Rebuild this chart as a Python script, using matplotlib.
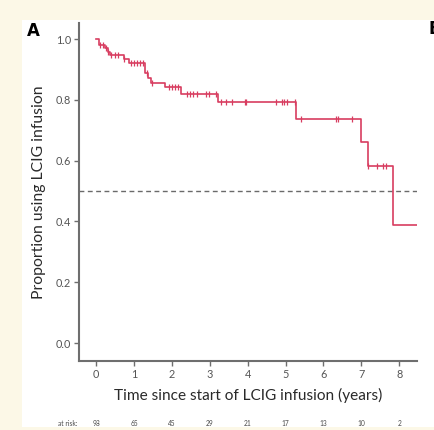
import numpy as np
import matplotlib
matplotlib.use("Agg")
import matplotlib.pyplot as plt
from matplotlib.patches import Rectangle
from matplotlib.transforms import blended_transform_factory

# Kaplan-Meier estimate of continued LCIG use
event_times = [0.0, 0.07, 0.245, 0.31, 0.38, 0.73, 0.86, 1.30, 1.37, 1.46,
               1.81, 2.24, 3.23, 5.28, 6.99, 7.17, 7.83]
survival = [1.0, 0.980, 0.970, 0.959, 0.948, 0.936, 0.921, 0.888, 0.871, 0.856,
            0.842, 0.821, 0.793, 0.738, 0.662, 0.582, 0.388]
last_followup = 8.46

censor_times = [0.11, 0.18, 0.25, 0.32, 0.39, 0.50, 0.58, 0.74, 0.92, 1.00,
                1.08, 1.16, 1.24, 1.34, 1.47, 1.92, 2.00, 2.08, 2.16, 2.39,
                2.47, 2.55, 2.66, 2.89, 2.97, 3.16, 3.31, 3.42, 3.59, 3.92,
                3.97, 4.75, 4.91, 4.97, 5.03, 5.26, 5.41, 6.33, 6.39, 6.75,
                7.17, 7.41, 7.58, 7.66]

risk_times = [0, 1, 2, 3, 4, 5, 6, 7, 8]
at_risk = [98, 65, 45, 29, 21, 17, 13, 10, 2]

yticks = [0.0, 0.2, 0.4, 0.6, 0.8, 1.0]
median_line = 0.5

curve_color = "#d83d60"
axis_gray = "#6e6e6e"
text_gray = "#4a4a4a"
font = "Lato"

fig = plt.figure(figsize=(4.35, 4.30), dpi=100)
fig.patch.set_facecolor("#fcf8e7")
# white panel behind the figure content
panel = Rectangle((22 / 435, 3 / 430), 1 - 22 / 435, 407 / 430,
                  transform=fig.transFigure, facecolor="white",
                  edgecolor="none", zorder=-10)
fig.patches.append(panel)

ax = fig.add_axes([79 / 435, 69 / 430, (417 - 79) / 435, (361 - 23) / 430])
ax.set_zorder(5)
ax.patch.set_alpha(0)

# step curve
xs = list(event_times) + [last_followup]
ys = list(survival) + [survival[-1]]
ax.step(xs, ys, where="post", color=curve_color, lw=1.2, zorder=3)

# censoring marks placed on the curve
ct = np.array(censor_times)
idx = np.searchsorted(np.array(event_times), ct, side="right") - 1
cy = np.array(survival)[idx]
ax.plot(ct, cy, linestyle="none", marker="|", markersize=4, mew=0.9,
        color=curve_color, zorder=4)

ax.axhline(median_line, color="#6a6a6a", lw=1.0, ls=(0, (3.5, 2.5)), zorder=2)

ax.set_xlim(-0.45, 8.47)
ax.set_ylim(-0.059, 1.053)
ax.set_xticks(risk_times)
ax.set_yticks(yticks)
ax.set_yticklabels([f"{v:.1f}" for v in yticks])

for s in ["top", "right"]:
    ax.spines[s].set_visible(False)
for s in ["left", "bottom"]:
    ax.spines[s].set_color(axis_gray)
    ax.spines[s].set_linewidth(1.5)
ax.tick_params(axis="both", colors=axis_gray, width=1.0, length=3.5,
               labelsize=7.8, labelcolor="#555555", pad=2)
for lab in ax.get_xticklabels() + ax.get_yticklabels():
    lab.set_family(font)

ax.set_xlabel("Time since start of LCIG infusion (years)", fontsize=11.1,
              family=font, color="#2a2a2a", labelpad=6)
ax.set_ylabel("Proportion using LCIG infusion", fontsize=11.3,
              family=font, color="#2a2a2a", labelpad=7)

# numbers at risk under the axis
tr = blended_transform_factory(ax.transData, fig.transFigure)
fig.text(58 / 435, 1 - 424 / 430, "at risk:", fontsize=4.8, family=font,
         color=text_gray, va="center", ha="left", zorder=6)
for t, n in zip(risk_times, at_risk):
    ax.text(t, 1 - 424 / 430, str(n), transform=tr, fontsize=4.8,
            family=font, color=text_gray, va="center", ha="center",
            clip_on=False)

# panel letters
fig.text(27 / 435, 1 - 31 / 430, "A", fontsize=12, fontweight="bold",
         family="DejaVu Sans", color="black", va="center", ha="left", zorder=6)
fig.text(429 / 435, 1 - 29 / 430, "B", fontsize=12, fontweight="bold",
         family="DejaVu Sans", color="black", va="center", ha="left", zorder=6)

fig.savefig("out.png", dpi=100, facecolor=fig.get_facecolor())
